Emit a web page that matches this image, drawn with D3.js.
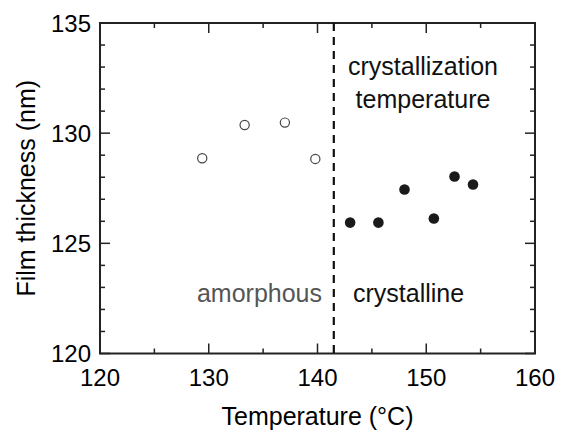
<!DOCTYPE html>
<html><head><meta charset="utf-8">
<script src="https://cdn.jsdelivr.net/npm/d3@7"></script>
<style>body{margin:0;background:#fff;} text{font-family:"Liberation Sans",Arial,sans-serif;}</style>
</head><body>
<svg id="c" width="562" height="435"></svg>
<script>
const amorphousT = [129.4, 133.3, 137.0, 139.8];
const amorphousH = [128.86, 130.37, 130.48, 128.83];
const crystallineT = [143.0, 145.6, 148.0, 150.7, 152.6, 154.3];
const crystallineH = [125.94, 125.94, 127.44, 126.13, 128.03, 127.67];
const xTicks = [120, 130, 140, 150, 160];
const yTicks = [120, 125, 130, 135];
const crystallizationT = 141.5;

const svg = d3.select("#c");
const L = 100, R = 535, T = 23, B = 353.5;
const x = d3.scaleLinear().domain([120, 160]).range([L, R]);
const y = d3.scaleLinear().domain([120, 135]).range([B, T]);
const axisColor = "#222";

// minor ticks
const xMinor = d3.range(125, 160, 10);
const yMinor = d3.range(120, 135.01, 1).filter(v => v % 5 !== 0);
const g = svg.append("g");
function tickLines(vals, len, horiz) {
  vals.forEach(v => {
    if (horiz) {
      g.append("line").attr("x1", x(v)).attr("x2", x(v)).attr("y1", B).attr("y2", B - len).attr("stroke", axisColor).attr("stroke-width", 1.5);
      g.append("line").attr("x1", x(v)).attr("x2", x(v)).attr("y1", T).attr("y2", T + len).attr("stroke", axisColor).attr("stroke-width", 1.5);
    } else {
      g.append("line").attr("y1", y(v)).attr("y2", y(v)).attr("x1", L).attr("x2", L + len).attr("stroke", axisColor).attr("stroke-width", 1.5);
      g.append("line").attr("y1", y(v)).attr("y2", y(v)).attr("x1", R).attr("x2", R - len).attr("stroke", axisColor).attr("stroke-width", 1.5);
    }
  });
}
tickLines(xTicks, 10, true);
tickLines(xMinor, 5, true);
tickLines(yTicks, 10, false);
tickLines(yMinor, 5, false);

// frame
svg.append("rect").attr("x", L).attr("y", T).attr("width", R - L).attr("height", B - T)
  .attr("fill", "none").attr("stroke", axisColor).attr("stroke-width", 2);

// tick labels
svg.append("g").selectAll("text").data(xTicks).join("text")
  .attr("x", d => x(d)).attr("y", 386).attr("text-anchor", "middle")
  .attr("font-size", 24).attr("fill", "#000").text(d => d);
svg.append("g").selectAll("text").data(yTicks).join("text")
  .attr("x", 91).attr("y", d => y(d) + 8.5).attr("text-anchor", "end")
  .attr("font-size", 24).attr("fill", "#000").text(d => d);

// axis titles
svg.append("text").attr("x", (L + R) / 2).attr("y", 425).attr("text-anchor", "middle")
  .attr("font-size", 25).attr("fill", "#000").text("Temperature (°C)");
svg.append("text").attr("transform", `translate(35,${(T + B) / 2}) rotate(-90)`)
  .attr("text-anchor", "middle").attr("font-size", 25).attr("fill", "#000").text("Film thickness (nm)");

// dashed line
svg.append("line").attr("x1", x(crystallizationT)).attr("x2", x(crystallizationT))
  .attr("y1", T).attr("y2", B).attr("stroke", "#111").attr("stroke-width", 2.2)
  .attr("stroke-dasharray", "8,6");

// annotations
svg.append("text").attr("x", 423).attr("y", 75).attr("text-anchor", "middle")
  .attr("font-size", 25).attr("fill", "#111").text("crystallization");
svg.append("text").attr("x", 423).attr("y", 108).attr("text-anchor", "middle")
  .attr("font-size", 25).attr("fill", "#111").text("temperature");
svg.append("text").attr("x", 322).attr("y", 302).attr("text-anchor", "end")
  .attr("font-size", 25).attr("fill", "#555").text("amorphous");
svg.append("text").attr("x", 353).attr("y", 302).attr("text-anchor", "start")
  .attr("font-size", 25).attr("fill", "#111").text("crystalline");

// points
svg.append("g").selectAll("circle").data(amorphousT.map((t, i) => [t, amorphousH[i]])).join("circle")
  .attr("cx", d => x(d[0])).attr("cy", d => y(d[1])).attr("r", 4.6)
  .attr("fill", "none").attr("stroke", "#444").attr("stroke-width", 1.2);
svg.append("g").selectAll("circle").data(crystallineT.map((t, i) => [t, crystallineH[i]])).join("circle")
  .attr("cx", d => x(d[0])).attr("cy", d => y(d[1])).attr("r", 5.3)
  .attr("fill", "#1a1a1a");
</script>
</body></html>
